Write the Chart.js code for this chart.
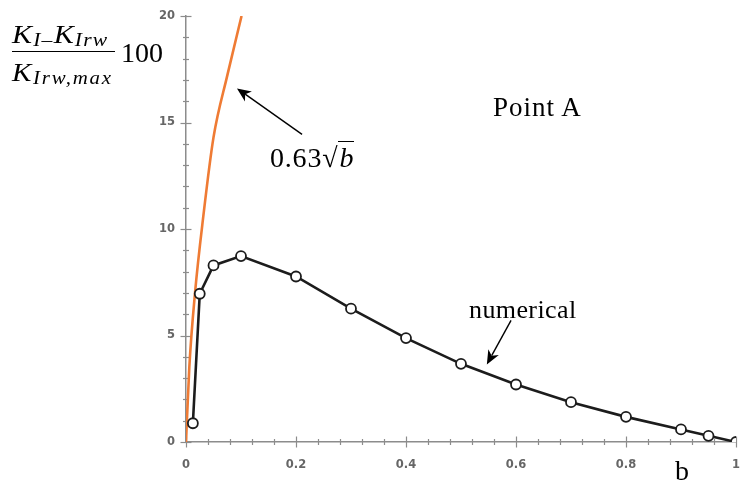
<!DOCTYPE html>
<html>
<head>
<meta charset="utf-8">
<script src="https://cdn.jsdelivr.net/npm/chart.js@4.4.1/dist/chart.umd.min.js"></script>
<style>
  html, body { margin: 0; padding: 0; background: #fff; }
  #wrap { position: relative; width: 744px; height: 484px; overflow: hidden; }
  canvas { position: absolute; left: 0; top: 0; }
  .lbl { position: absolute; font-family: "Liberation Serif", "Times New Roman", serif; color: #000; line-height: 1; white-space: nowrap; }
  .it { font-style: italic; }
  .sub { font-size: 18px; font-style: italic; position: relative; top: 3px; }
</style>
</head>
<body>
<div id="wrap">
  <canvas id="c" width="744" height="484"></canvas>
  <div class="lbl it" style="left:12px; top:22px; font-size:25px; letter-spacing:1px; transform:scaleX(1.2); transform-origin:left top;">K<span class="sub">I–</span>K<span class="sub">Irw</span></div>
  <div style="position:absolute; left:12px; top:51px; width:103px; height:0; border-top:1.5px solid #000;"></div>
  <div class="lbl it" style="left:12px; top:60px; font-size:25px; letter-spacing:1.5px; transform:scaleX(1.16); transform-origin:left top;">K<span class="sub">Irw,max</span></div>
  <div class="lbl" style="left:121px; top:39px; font-size:28px;">100</div>
  <div class="lbl" style="left:493px; top:94px; font-size:27px; letter-spacing:1px;">Point A</div>
  <div class="lbl" style="left:270px; top:144px; font-size:28px; letter-spacing:0.8px;">0.63√<span class="it" style="border-top:1.5px solid #000; padding-left:1px;">b</span></div>
  <div class="lbl" style="left:469px; top:297px; font-size:26px; letter-spacing:0.4px;">numerical</div>
  <div class="lbl" style="left:675px; top:457px; font-size:28px;">b</div>
</div>
<script>
// ---- data ----
const numericalB   = [0.0125, 0.025, 0.05, 0.1, 0.2, 0.3, 0.4, 0.5, 0.6, 0.7, 0.8, 0.9, 0.95, 1.0];
const numericalVal = [0.88, 6.96, 8.29, 8.73, 7.77, 6.26, 4.88, 3.67, 2.70, 1.87, 1.18, 0.59, 0.29, 0.0];
const sqrtB   = [0, 0.006, 0.0164, 0.0315, 0.05, 0.075, 0.101];
const sqrtVal = [0, 3.5, 7.0, 10.6, 14.3, 17.2, 20.0];
const xTickLabels = ["0", "0.2", "0.4", "0.6", "0.8", "1"];
const yTickLabels = ["0", "5", "10", "15", "20"];
// annotation arrows (data coordinates): tail -> head
const arrowTail = [[0.211, 14.44], [0.591, 5.71]];
const arrowHead = [[0.0927, 16.6], [0.547, 3.64]];

const toPts = (xs, ys) => xs.map((x, i) => ({ x: x, y: ys[i] }));

const axisColor = '#8c8c8c';

const tickMarks = {
  id: 'tickMarks',
  beforeDatasetsDraw(chart) {
    const ctx = chart.ctx, xs = chart.scales.x, ys = chart.scales.y;
    const ax = chart.chartArea.left, ay = chart.chartArea.bottom;
    ctx.save();
    ctx.strokeStyle = axisColor;
    ctx.lineWidth = 1.2;
    ys.ticks.forEach(t => {
      const major = yTickLabels.includes(String(Math.round(t.value * 1000) / 1000));
      const p = Math.round(ys.getPixelForValue(t.value)) + 0.5;
      const l = major ? 5.5 : 3;
      ctx.beginPath(); ctx.moveTo(ax - l, p); ctx.lineTo(ax + l, p); ctx.stroke();
    });
    xs.ticks.forEach(t => {
      const major = xTickLabels.includes(String(Math.round(t.value * 1000) / 1000));
      const p = Math.round(xs.getPixelForValue(t.value)) + 0.5;
      const l = major ? 5.5 : 3;
      ctx.beginPath(); ctx.moveTo(p, ay - l); ctx.lineTo(p, ay + l); ctx.stroke();
    });
    ctx.restore();
  }
};

const arrows = {
  id: 'arrows',
  afterDatasetsDraw(chart) {
    const ctx = chart.ctx, xs = chart.scales.x, ys = chart.scales.y;
    ctx.save();
    ctx.strokeStyle = '#000';
    ctx.fillStyle = '#000';
    ctx.lineWidth = 1.4;
    arrowTail.forEach((tl, i) => {
      const x0 = xs.getPixelForValue(tl[0]), y0 = ys.getPixelForValue(tl[1]);
      const x1 = xs.getPixelForValue(arrowHead[i][0]), y1 = ys.getPixelForValue(arrowHead[i][1]);
      const ang = Math.atan2(y1 - y0, x1 - x0);
      const L = 14, W = 6, notch = 10;
      const bx = x1 - notch * Math.cos(ang), by = y1 - notch * Math.sin(ang);
      ctx.beginPath(); ctx.moveTo(x0, y0); ctx.lineTo(bx, by); ctx.stroke();
      const px = x1 - L * Math.cos(ang), py = y1 - L * Math.sin(ang);
      ctx.beginPath();
      ctx.moveTo(x1, y1);
      ctx.lineTo(px + W * Math.sin(ang), py - W * Math.cos(ang));
      ctx.lineTo(bx, by);
      ctx.lineTo(px - W * Math.sin(ang), py + W * Math.cos(ang));
      ctx.closePath();
      ctx.fill();
    });
    ctx.restore();
  }
};

const fmt = v => String(Math.round(v * 1000) / 1000);

new Chart(document.getElementById('c'), {
  type: 'scatter',
  data: {
    datasets: [
      {
        label: '0.63√b',
        data: toPts(sqrtB, sqrtVal),
        showLine: true,
        borderColor: '#EF7B34',
        borderWidth: 2.6,
        pointRadius: 0,
        cubicInterpolationMode: 'monotone',
        order: 2
      },
      {
        label: 'numerical',
        data: toPts(numericalB, numericalVal),
        showLine: true,
        borderColor: '#1c1c1c',
        borderWidth: 2.6,
        pointRadius: 5,
        pointBorderWidth: 1.8,
        pointBackgroundColor: '#ffffff',
        pointBorderColor: '#1c1c1c',
        tension: 0,
        order: 1
      }
    ]
  },
  options: {
    responsive: false,
    animation: false,
    devicePixelRatio: 1,
    layout: { padding: { top: 16, right: 8, left: 0, bottom: 0 } },
    plugins: { legend: { display: false }, tooltip: { enabled: false } },
    scales: {
      x: {
        type: 'linear', min: 0, max: 1,
        grid: { display: false, drawTicks: false },
        border: { display: true, color: axisColor, width: 1.5 },
        afterFit: s => { s.height = 42; s.paddingRight = 0; s.paddingLeft = 0; },
        ticks: {
          stepSize: 0.04, autoSkip: false, maxRotation: 0, padding: 16,
          color: '#666', font: { family: 'DejaVu Sans', size: 11.5, weight: 'bold' },
          callback: v => xTickLabels.includes(fmt(v)) ? fmt(v) : ''
        }
      },
      y: {
        type: 'linear', min: 0, max: 20,
        grid: { display: false, drawTicks: false },
        border: { display: true, color: axisColor, width: 1.5 },
        afterFit: s => { s.width = 186; s.paddingTop = 0; s.paddingBottom = 0; },
        ticks: {
          stepSize: 1, autoSkip: false, padding: 11,
          color: '#666', font: { family: 'DejaVu Sans', size: 11.5, weight: 'bold' },
          callback: v => yTickLabels.includes(fmt(v)) ? fmt(v) : ''
        }
      }
    }
  },
  plugins: [tickMarks, arrows]
});
</script>
</body>
</html>
